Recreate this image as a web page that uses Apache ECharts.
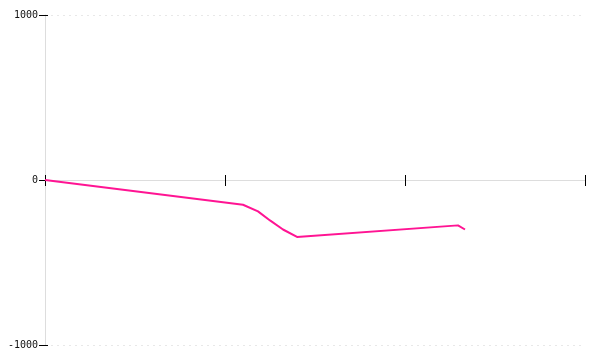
<!DOCTYPE html>
<html>
<head>
<meta charset="utf-8">
<script src="https://cdn.jsdelivr.net/npm/echarts@6/dist/echarts.min.js"></script>
<style>html,body{margin:0;padding:0;background:#fff}#c{width:600px;height:360px}</style>
</head>
<body>
<div id="c"></div>
<script>
const xValues = [0, 198, 213, 225, 238, 252, 413, 420];
const yValues = [0, -150, -190, -245, -300, -345, -275, -300];
const xTicks = [0, 180, 360, 540];
const yTicks = [-1000, 0, 1000];

const chart = echarts.init(document.getElementById('c'), null, {renderer: 'canvas'});
const pts = xValues.map((x, i) => [x, yValues[i]]);
const xMin = xTicks[0], xMax = xTicks[xTicks.length - 1], xInt = xTicks[1] - xTicks[0];
const yMin = yTicks[0], yMax = yTicks[yTicks.length - 1], yInt = yTicks[1] - yTicks[0];
const font = {fontFamily: 'DejaVu Sans Mono', fontSize: 10, color: '#111'};
chart.setOption({
  animation: false,
  grid: {left: 45, right: 15, top: 15, bottom: 15, containLabel: false},
  xAxis: [
    {type: 'value', min: xMin, max: xMax, interval: xInt,
     axisLine: {onZero: true, onZeroAxisIndex: 0, lineStyle: {color: '#ddd', width: 1}},
     axisTick: {show: true, length: 6, lineStyle: {color: '#000', width: 1}},
     axisLabel: {show: false}, splitLine: {show: false}},
    {type: 'value', min: xMin, max: xMax, interval: xInt, position: 'bottom',
     axisLine: {show: false, onZero: true, onZeroAxisIndex: 0},
     axisTick: {show: true, inside: true, length: 5, lineStyle: {color: '#000', width: 1}},
     axisLabel: {show: false}, splitLine: {show: false}}
  ],
  yAxis: [
    {type: 'value', min: yMin, max: yMax, interval: yInt,
     axisLine: {show: true, onZero: false, lineStyle: {color: '#ddd', width: 1}},
     axisTick: {show: true, length: 6, lineStyle: {color: '#000', width: 1}},
     axisLabel: Object.assign({margin: 7, formatter: v => String(v)}, font),
     splitLine: {show: true, lineStyle: {color: '#e8e8e8', type: [2, 4], width: 1}}},
    {type: 'value', min: yMin, max: yMax, interval: yInt, position: 'left',
     axisLine: {show: false, onZero: false},
     axisTick: {show: true, inside: true, length: 3, lineStyle: {color: '#000', width: 1}},
     axisLabel: {show: false}, splitLine: {show: false}}
  ],
  series: [{type: 'line', xAxisIndex: 0, yAxisIndex: 0, data: pts, showSymbol: false, symbol: 'none',
    lineStyle: {color: '#ff1493', width: 2}}]
});
</script>
</body>
</html>
